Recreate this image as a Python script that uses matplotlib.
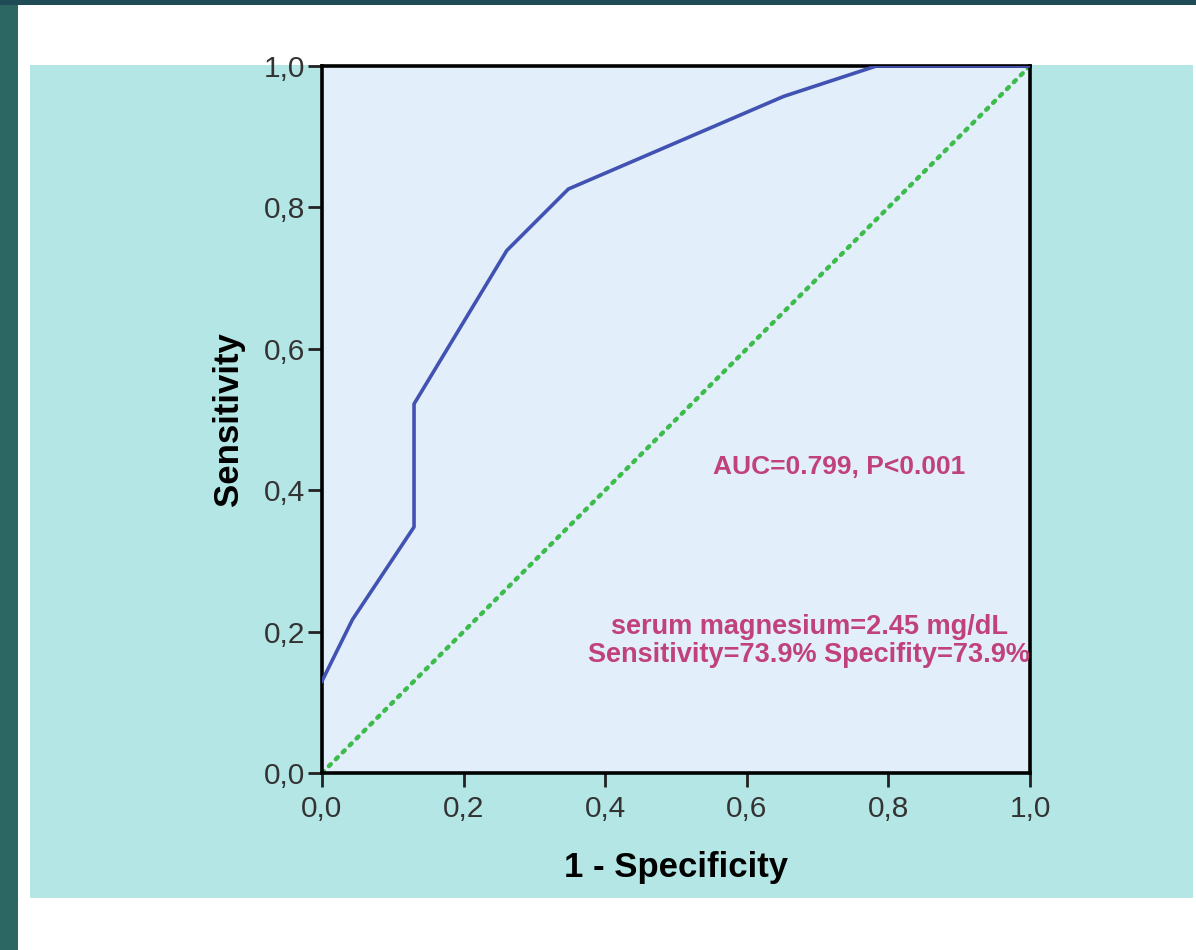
import matplotlib
matplotlib.use("Agg")
import matplotlib.pyplot as plt
from matplotlib.patches import Rectangle
import numpy as np

# ---- data ----
fpr = [0.0, 0.043, 0.130, 0.130, 0.261, 0.348, 0.652, 0.783, 1.0]
tpr = [0.130, 0.217, 0.348, 0.522, 0.739, 0.826, 0.957, 1.0, 1.0]
ref_x = [0.0, 1.0]
ref_y = [0.0, 1.0]
ticks = [0.0, 0.2, 0.4, 0.6, 0.8, 1.0]
tick_labels = ["0,0", "0,2", "0,4", "0,6", "0,8", "1,0"]
auc_text = "AUC=0.799, P<0.001"
cut_text = "serum magnesium=2.45 mg/dL\nSensitivity=73.9% Specifity=73.9%"

plt.rcParams['font.family'] = ['Liberation Sans', 'DejaVu Sans']

W, H = 1196, 950
fig = plt.figure(figsize=(W / 100, H / 100), dpi=100)
fig.patch.set_facecolor("white")

def px_rect(x0, y0, x1, y1, color, z=0):
    r = Rectangle((x0 / W, 1 - y1 / H), (x1 - x0) / W, (y1 - y0) / H,
                  transform=fig.transFigure, facecolor=color, edgecolor="none",
                  zorder=z)
    fig.add_artist(r)

# dark border (left and top)
px_rect(0, 0, 18, H, "#2c6764")
px_rect(0, 0, W, 5, "#1f4b57")
# cyan panel
px_rect(30, 65, 1193, 898, "#b4e6e6")

ax = fig.add_axes([322 / W, 1 - 773 / H, 708 / W, 707 / H])
ax.set_facecolor("#e2eef9")
ax.set_zorder(2)

ax.plot(ref_x, ref_y, color="#3dbb4c", lw=3.2, linestyle=(0, (0.6, 1.6)),
        dash_capstyle="round", zorder=2)
ax.plot(fpr, tpr, color="#4152b3", lw=2.6, zorder=3)

ax.set_xlim(0, 1)
ax.set_ylim(0, 1)
ax.set_xticks(ticks)
ax.set_yticks(ticks)
ax.set_xticklabels(tick_labels)
ax.set_yticklabels(tick_labels)
ax.tick_params(axis="both", direction="out", length=10, width=2, color="#222222",
               labelsize=21.5, labelcolor="#333333")
ax.tick_params(axis="x", pad=6)
ax.tick_params(axis="y", pad=2)
for s in ax.spines.values():
    s.set_linewidth(2.6)
    s.set_color("black")

ax.set_xlabel("1 - Specificity", fontsize=25, fontweight="bold", labelpad=20)
ax.set_ylabel("Sensitivity", fontsize=25, fontweight="bold", labelpad=14)

ax.text(0.73, 0.433, auc_text, color="#c0417c", fontsize=19, fontweight="bold",
        ha="center", va="center")
ax.text(0.688, 0.187, cut_text, color="#c0417c", fontsize=19.5, fontweight="bold",
        ha="center", va="center", linespacing=1.1)

fig.savefig("out.png", dpi=100)
